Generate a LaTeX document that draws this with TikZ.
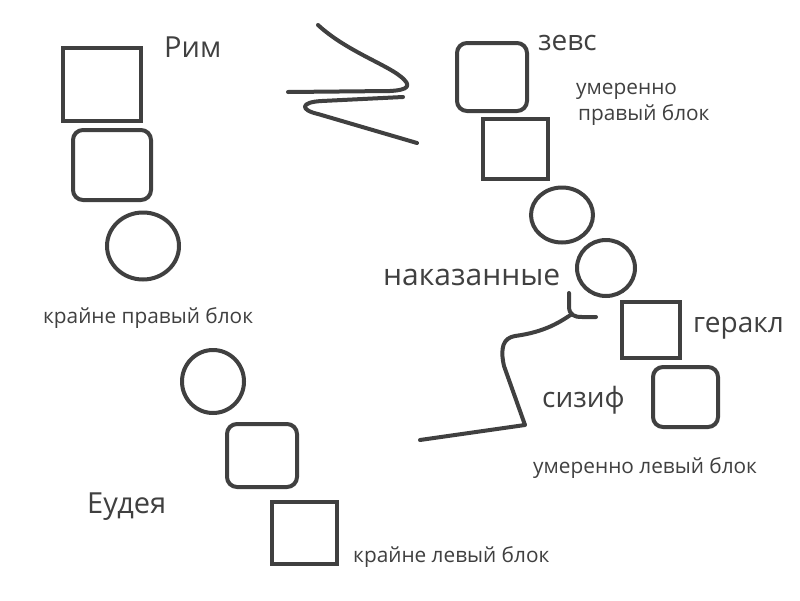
\documentclass[tikz,border=0pt]{standalone}
\usepackage{fontspec}
\setmainfont{Open Sans}
\usetikzlibrary{shapes.geometric}
\definecolor{ink}{HTML}{404040}
\tikzset{
  box/.style n args={2}{draw=ink, line width=4pt, minimum width=#1, minimum height=#2, inner sep=0pt},
  rbox/.style n args={2}{draw=ink, line width=4pt, rounded corners=10pt, minimum width=#1, minimum height=#2, inner sep=0pt},
  oval/.style n args={2}{draw=ink, line width=4pt, ellipse, minimum width=#1, minimum height=#2, inner sep=0pt},
  big/.style={text=ink, anchor=base west, inner sep=0pt, font=\fontsize{28}{32}\selectfont},
  small/.style={text=ink, anchor=base west, inner sep=0pt, font=\fontsize{20.8}{24}\selectfont},
  stroke/.style={draw=ink, line width=4pt, line cap=round, line join=round}
}
\begin{document}
\begin{tikzpicture}[x=1pt,y=-1pt]
\useasboundingbox[fill=white] (0,0) rectangle (800,600);
% left column
\node[box={78pt}{73pt}] (r1) at (102,84.5) {};
\node[rbox={78pt}{70pt}] (r2) at (112,165) {};
\node[oval={72pt}{67pt}] (r3) at (143,246) {};
\node[big, font=\fontsize{29}{33}\selectfont] (rim) at (164,57) {Рим};
\node[small] (krp) at (43,323) {крайне правый блок};
% lower left
\node[oval={62pt}{63pt}] (l1) at (213,381.5) {};
\node[rbox={70pt}{63pt}] (l2) at (262,455.5) {};
\node[box={65pt}{62pt}] (l3) at (304.5,533) {};
\node[big, font=\fontsize{29}{33}\selectfont] (eud) at (87,513) {Еудея};
\node[small] (klb) at (353,562) {крайне левый блок};
% right column
\node[rbox={70pt}{68pt}] (z1) at (492,77) {};
\node[box={65pt}{60pt}] (z2) at (515.5,149) {};
\node[oval={62pt}{55pt}] (z3) at (562,215) {};
\node[oval={58pt}{56pt}] (z4) at (606,268) {};
\node[box={58pt}{56pt}] (g1) at (651,330) {};
\node[rbox={65pt}{60pt}] (s1) at (685.5,397) {};
\node[big] (zevs) at (538,50) {зевс};
\node[small] (upb1) at (576,94) {умеренно};
\node[small] (upb2) at (578,120) {правый блок};
\node[big, font=\fontsize{30}{34}\selectfont] (nak) at (383,285) {наказанные};
\node[big] (ger) at (693,332) {геракл};
\node[big] (siz) at (542,407) {сизиф};
\node[small] (ulb) at (533,473) {умеренно левый блок};
% squiggle
\coordinate (q1) at (318,25);
\coordinate (q2) at (288,92);
\coordinate (q3) at (403,97);
\coordinate (q4) at (417,143);
\draw[stroke] (q1) .. controls (345,50) and (385,64) .. (400,76)
  .. controls (413,86) and (408,90) .. (390,91) -- (q2);
\draw[stroke] (q3) -- (322,101) .. controls (300,102) and (300,110) .. (318,114) -- (q4);
% bracket
\coordinate (b1) at (569,293);
\coordinate (b2) at (596,317);
\coordinate (bj) at (572,314);
\coordinate (b3) at (420,440);
\draw[stroke] (b1) -- (569,306) .. controls (569,315) and (574,317) .. (582,317) -- (b2);
\draw[stroke] (bj) .. controls (560,322) and (545,332) .. (515,336)
  .. controls (503,338) and (500,348) .. (504,366) -- (525,425) -- (b3);
\end{tikzpicture}
\end{document}
